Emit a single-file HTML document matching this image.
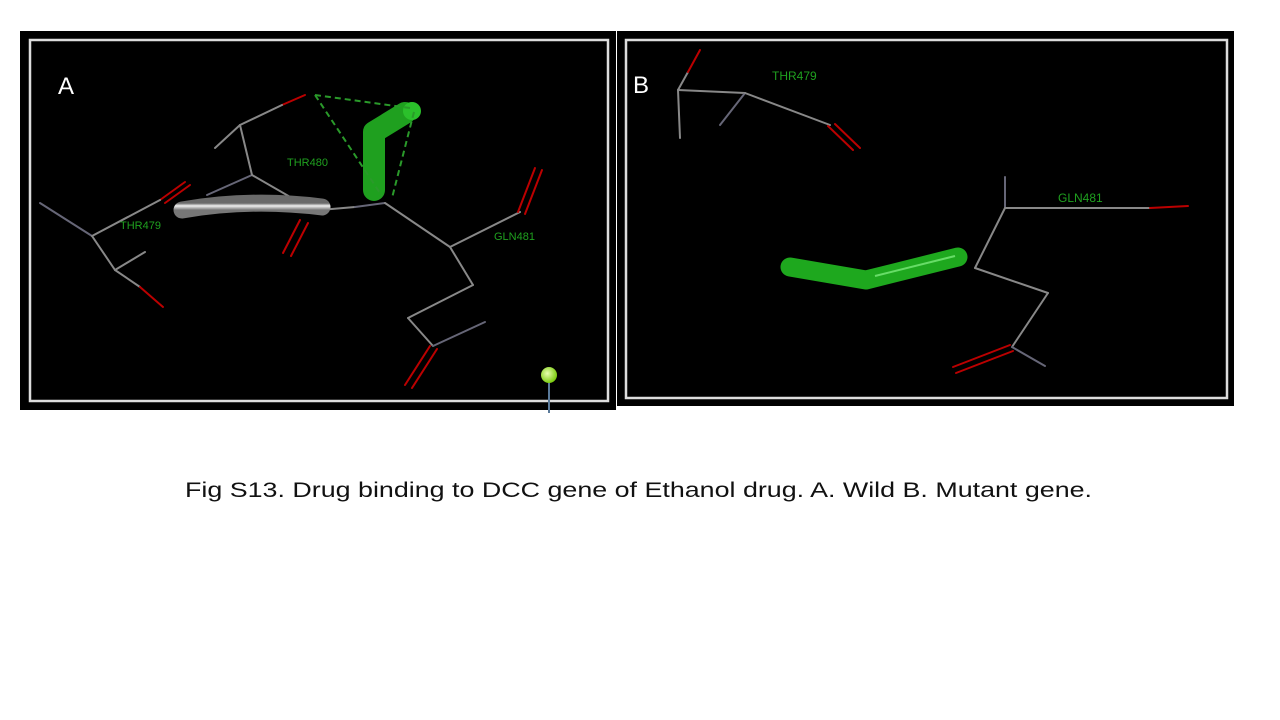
<!DOCTYPE html>
<html><head><meta charset="utf-8"><style>
html,body{margin:0;padding:0;background:#fff;width:1280px;height:720px;overflow:hidden}
svg{display:block}
</style></head><body>
<svg width="1280" height="720" viewBox="0 0 1280 720">
<defs>
<linearGradient id="gt" x1="0" y1="0" x2="0" y2="1"><stop offset="0" stop-color="#6a6a6a"/><stop offset="0.4" stop-color="#f0f0f0"/><stop offset="1" stop-color="#777"/></linearGradient>
<radialGradient id="ball" cx="0.4" cy="0.4" r="0.6"><stop offset="0" stop-color="#e8ffb0"/><stop offset="1" stop-color="#7ccc10"/></radialGradient>
</defs>
<g>
<rect x="20" y="31" width="596" height="379" fill="#000"/>
<rect x="30" y="40" width="578" height="361" fill="none" stroke="#ddd" stroke-width="2.5"/>
<text x="58" y="94" fill="#fff" font-family="Liberation Sans, sans-serif" font-size="24">A</text>
<g stroke-width="2" fill="none" stroke-linecap="round">
<line x1="305" y1="95" x2="282" y2="105" stroke="#b00"/>
<line x1="282" y1="105" x2="240" y2="125" stroke="#888"/>
<line x1="240" y1="125" x2="215" y2="148" stroke="#888"/>
<line x1="240" y1="125" x2="252" y2="175" stroke="#888"/>
<line x1="252" y1="175" x2="207" y2="195" stroke="#667"/>
<line x1="252" y1="175" x2="318" y2="213" stroke="#888"/>
<line x1="160" y1="200" x2="185" y2="182" stroke="#b00"/>
<line x1="165" y1="203" x2="190" y2="185" stroke="#b00"/>
<line x1="160" y1="200" x2="92" y2="236" stroke="#888"/>
<line x1="92" y1="236" x2="40" y2="203" stroke="#667"/>
<line x1="92" y1="236" x2="115" y2="270" stroke="#888"/>
<line x1="115" y1="270" x2="145" y2="252" stroke="#888"/>
<line x1="115" y1="270" x2="140" y2="287" stroke="#888"/>
<line x1="140" y1="287" x2="163" y2="307" stroke="#b00"/>
<line x1="300" y1="220" x2="283" y2="253" stroke="#b00"/>
<line x1="308" y1="223" x2="291" y2="256" stroke="#b00"/>
<line x1="320" y1="210" x2="355" y2="207" stroke="#888"/>
<line x1="355" y1="207" x2="385" y2="203" stroke="#667"/>
<line x1="385" y1="203" x2="450" y2="247" stroke="#888"/>
<line x1="450" y1="247" x2="520" y2="212" stroke="#888"/>
<line x1="518" y1="212" x2="535" y2="168" stroke="#b00"/>
<line x1="525" y1="214" x2="542" y2="170" stroke="#b00"/>
<line x1="450" y1="247" x2="473" y2="285" stroke="#888"/>
<line x1="473" y1="285" x2="408" y2="318" stroke="#888"/>
<line x1="408" y1="318" x2="433" y2="346" stroke="#888"/>
<line x1="433" y1="346" x2="485" y2="322" stroke="#667"/>
<line x1="430" y1="346" x2="405" y2="385" stroke="#b00"/>
<line x1="437" y1="349" x2="412" y2="388" stroke="#b00"/>
</g>
<path d="M182 210 Q250 198 322 207" stroke="url(#gt)" stroke-width="17" fill="none" stroke-linecap="round"/>
<path d="M374 190 L374 132 L405 113" stroke="#1fa01f" stroke-width="22" fill="none" stroke-linecap="round" stroke-linejoin="round"/>
<circle cx="412" cy="111" r="9" fill="#2bc02b"/>
<g stroke="#2a9a2a" stroke-width="2" stroke-dasharray="6,4" fill="none">
<line x1="315" y1="95" x2="410" y2="108"/>
<line x1="315" y1="95" x2="382" y2="196"/>
<line x1="414" y1="112" x2="392" y2="198"/>
</g>
<g fill="#1fa01f" font-family="Liberation Sans, sans-serif" font-size="11">
<text x="287" y="166">THR480</text>
<text x="120" y="229">THR479</text>
<text x="494" y="240">GLN481</text>
</g>
<line x1="549" y1="376" x2="549" y2="413" stroke="#5a7a9a" stroke-width="2"/>
<circle cx="549" cy="375" r="8" fill="url(#ball)"/>
</g>
<g>
<rect x="617" y="31" width="617" height="375" fill="#000"/>
<rect x="626" y="40" width="601" height="358" fill="none" stroke="#ddd" stroke-width="2.5"/>
<text x="633" y="93" fill="#fff" font-family="Liberation Sans, sans-serif" font-size="24">B</text>
<g stroke-width="2" fill="none" stroke-linecap="round">
<line x1="678" y1="90" x2="688" y2="72" stroke="#888"/>
<line x1="688" y1="72" x2="700" y2="50" stroke="#b00"/>
<line x1="678" y1="90" x2="680" y2="138" stroke="#888"/>
<line x1="678" y1="90" x2="745" y2="93" stroke="#888"/>
<line x1="745" y1="93" x2="720" y2="125" stroke="#667"/>
<line x1="745" y1="93" x2="830" y2="125" stroke="#888"/>
<line x1="828" y1="126" x2="853" y2="150" stroke="#b00"/>
<line x1="835" y1="124" x2="860" y2="148" stroke="#b00"/>
<line x1="1005" y1="177" x2="1005" y2="207" stroke="#667"/>
<line x1="1005" y1="208" x2="1150" y2="208" stroke="#888"/>
<line x1="1150" y1="208" x2="1188" y2="206" stroke="#b00"/>
<line x1="1005" y1="208" x2="975" y2="268" stroke="#888"/>
<line x1="975" y1="268" x2="1048" y2="293" stroke="#888"/>
<line x1="1048" y1="293" x2="1012" y2="347" stroke="#888"/>
<line x1="1012" y1="347" x2="1045" y2="366" stroke="#667"/>
<line x1="1010" y1="345" x2="953" y2="367" stroke="#b00"/>
<line x1="1013" y1="351" x2="956" y2="373" stroke="#b00"/>
</g>
<path d="M790 267 L866 280 L958 257" stroke="#1ea81e" stroke-width="19" fill="none" stroke-linecap="round" stroke-linejoin="round"/>
<path d="M875 276 L955 256" stroke="#9f9" stroke-width="2" opacity="0.6"/>
<g fill="#1fa01f" font-family="Liberation Sans, sans-serif" font-size="12">
<text x="772" y="80">THR479</text>
<text x="1058" y="202">GLN481</text>
</g>
</g>
<text x="185" y="497" fill="#111" font-family="Liberation Sans, sans-serif" font-size="21" textLength="907" lengthAdjust="spacingAndGlyphs">Fig S13. Drug binding  to DCC gene of Ethanol drug. A. Wild  B. Mutant gene.</text>
</svg>
</body></html>
